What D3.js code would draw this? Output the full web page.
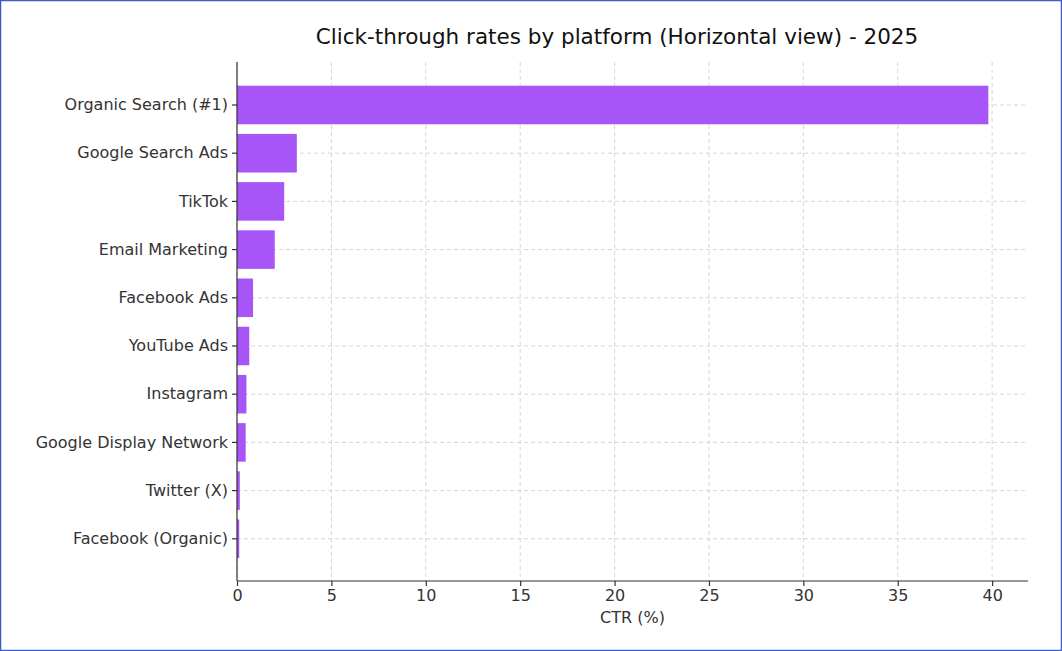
<!DOCTYPE html>
<html>
<head>
<meta charset="utf-8">
<script src="https://cdn.jsdelivr.net/npm/d3@7"></script>
<style>
  body { margin: 0; background: #fff; }
  svg { display: block; font-family: "DejaVu Sans", sans-serif; }
</style>
</head>
<body>
<svg id="chart" width="1062" height="651"></svg>
<script>
const platforms = ["Organic Search (#1)", "Google Search Ads", "TikTok", "Email Marketing", "Facebook Ads",
  "YouTube Ads", "Instagram", "Google Display Network", "Twitter (X)", "Facebook (Organic)"];
const ctr = [39.8, 3.17, 2.5, 2.0, 0.85, 0.65, 0.5, 0.46, 0.15, 0.12];
const xTicks = [0, 5, 10, 15, 20, 25, 30, 35, 40];

const svg = d3.select("#chart");
svg.append("rect").attr("x", 0.5).attr("y", 0.5).attr("width", 1061).attr("height", 650)
  .attr("fill", "#fff").attr("stroke", "#3a5fcd").attr("stroke-width", 1.5);

// plot area
const plotLeft = 237, plotRight = 1028, plotTop = 62, plotBottom = 581;
const x = d3.scaleLinear().domain([0, 41.9]).range([plotLeft, plotRight]);
const y = d3.scaleBand().domain(platforms).range([80.9, 562.9]).paddingInner(0.2).paddingOuter(0.1);

// grid
const grid = svg.append("g").attr("stroke", "#cccccc").attr("stroke-dasharray", "4,3").attr("stroke-width", 0.8);
xTicks.forEach(t => grid.append("line").attr("x1", x(t)).attr("x2", x(t)).attr("y1", plotTop).attr("y2", plotBottom));
platforms.forEach(p => {
  const cy = y(p) + y.bandwidth() / 2;
  grid.append("line").attr("x1", plotLeft).attr("x2", plotRight).attr("y1", cy).attr("y2", cy);
});

// bars
svg.append("g").selectAll("rect").data(platforms).join("rect")
  .attr("x", x(0)).attr("y", d => y(d))
  .attr("width", (d, i) => x(ctr[i]) - x(0))
  .attr("height", y.bandwidth())
  .attr("fill", "#a855f7");

// axes
const xAxis = svg.append("g").attr("transform", `translate(0,${plotBottom})`)
  .call(d3.axisBottom(x).tickValues(xTicks).tickSize(5).tickPadding(4));
xAxis.select(".domain").attr("d", `M${plotLeft},0H${plotRight}`);
const yAxis = svg.append("g").attr("transform", `translate(${plotLeft},0)`)
  .call(d3.axisLeft(y).tickSize(5).tickPadding(4));
yAxis.select(".domain").attr("d", `M0,${plotTop}V${plotBottom}`);
[xAxis, yAxis].forEach(a => {
  a.selectAll("text").attr("font-size", 16).attr("fill", "#333").attr("font-family", "DejaVu Sans");
  a.selectAll("line,path").attr("stroke", "#333").attr("stroke-width", 1.2);
});

svg.append("text").attr("x", (plotLeft + plotRight) / 2).attr("y", 623).attr("text-anchor", "middle")
  .attr("font-size", 16).attr("fill", "#333").text("CTR (%)");
svg.append("text").attr("x", 617).attr("y", 44).attr("text-anchor", "middle")
  .attr("font-size", 21.5).attr("fill", "#111").text("Click-through rates by platform (Horizontal view) - 2025");
</script>
</body>
</html>
